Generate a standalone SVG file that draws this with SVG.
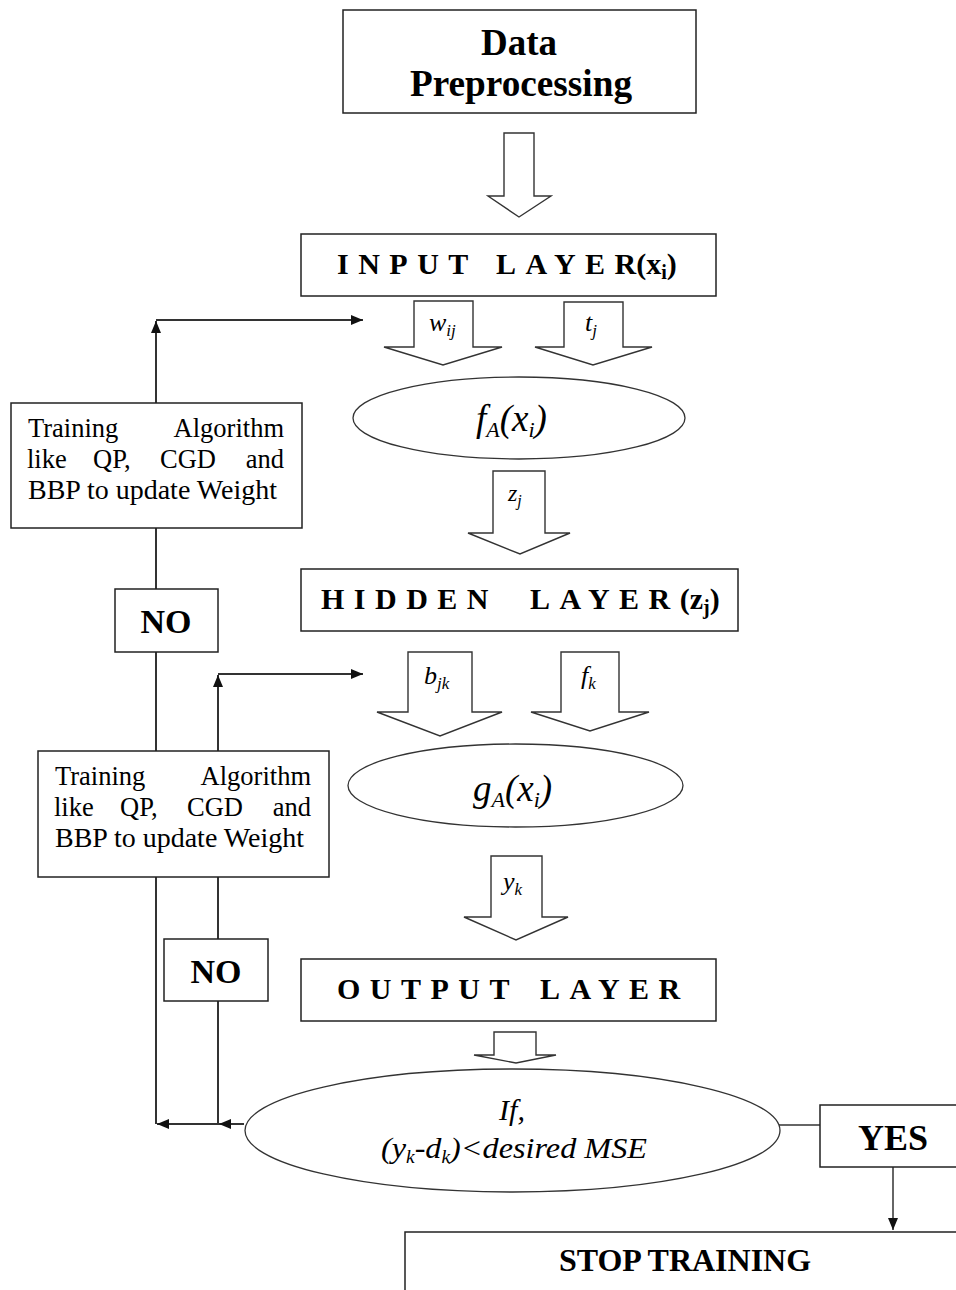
<svg xmlns="http://www.w3.org/2000/svg" width="956" height="1290" viewBox="0 0 956 1290">
  <style>
    .box { fill: #fff; stroke: #222; stroke-width: 1.5; }
    .ell { fill: #fff; stroke: #333; stroke-width: 1.3; }
    .blk { fill: #fff; stroke: #333; stroke-width: 1.4; stroke-linejoin: miter; }
    .ln { fill: none; stroke: #333; stroke-width: 2; }
    .thin { fill: none; stroke: #333; stroke-width: 1.5; }
    .title { font-family: "Liberation Serif", serif; font-weight: bold; font-size: 30px; letter-spacing: 9.5px; }
    .math { font-family: "Liberation Serif", serif; font-style: italic; }
    .body { font-family: "Liberation Serif", serif; font-size: 26.5px; }
    .bold { font-family: "Liberation Serif", serif; font-weight: bold; }
  </style>
  <defs>
    <marker id="tri" viewBox="0 0 12 10" refX="12" refY="5" markerWidth="12" markerHeight="10" markerUnits="userSpaceOnUse" orient="auto">
      <path d="M0,0 L12,5 L0,10 Z" fill="#111"/>
    </marker>
    <g id="trainText" class="body">
      <text x="28" y="437">Training</text>
      <text x="284" y="437" text-anchor="end">Algorithm</text>
      <text x="27" y="468">like</text>
      <text x="93" y="468">QP,</text>
      <text x="160" y="468">CGD</text>
      <text x="284" y="468" text-anchor="end">and</text>
      <text x="28" y="499" textLength="249" lengthAdjust="spacingAndGlyphs">BBP to update Weight</text>
    </g>
  </defs>

  <!-- feedback loops and decision links -->
  <g id="connectors">
    <path class="ln" d="M156,1124 L156,321" marker-end="url(#tri)"/>
    <path class="ln" d="M156,320 L363,320" marker-end="url(#tri)"/>
    <path class="ln" d="M218,1124 L218,675" marker-end="url(#tri)"/>
    <path class="ln" d="M218,674 L363,674" marker-end="url(#tri)"/>
    <path class="ln" d="M244,1124 L219,1124" marker-end="url(#tri)"/>
    <path class="ln" d="M219,1124 L157,1124" marker-end="url(#tri)"/>
    <path class="thin" d="M779,1125 L820,1125"/>
    <path class="thin" d="M893,1167 L893,1230" marker-end="url(#tri)"/>

    <!-- block arrows between stages -->
    <polygon class="blk" points="504,133 534,133 534,196 551,196 519,217 488,196 504,196"/>
    <polygon class="blk" points="414,301 473,301 473,347 502,347 443,365 384,347 414,347"/>
    <polygon class="blk" points="564,302 623,302 623,347 652,347 593,365 535,347 564,347"/>
    <polygon class="blk" points="493,471 545,471 545,533 570,533 520,554 468,533 493,533"/>
    <polygon class="blk" points="408,652 472,652 472,712 502,712 440,736 377,712 408,712"/>
    <polygon class="blk" points="561,652 619,652 619,712 649,712 590,731 531,712 561,712"/>
    <polygon class="blk" points="491,856 542,856 542,917 568,917 516,940 464,917 491,917"/>
    <polygon class="blk" points="494,1032 536,1032 536,1055 556,1055 516,1063 474,1055 494,1055"/>

    <g class="math" font-size="26">
      <text x="429" y="331">w<tspan font-size="17" dy="5">ij</tspan></text>
      <text x="585" y="331">t<tspan font-size="17" dy="5">j</tspan></text>
      <text x="424" y="684">b<tspan font-size="17" dy="5">jk</tspan></text>
      <text x="581" y="684">f<tspan font-size="17" dy="5">k</tspan></text>
      <text x="503" y="890">y<tspan font-size="17" dy="5">k</tspan></text>
    </g>
    <text class="math" font-size="24" x="508" y="501">z<tspan font-size="16" dy="5">j</tspan></text>
  </g>

  <g id="data-preprocessing">
    <rect class="box" x="343" y="10" width="353" height="103"/>
    <text class="bold" font-size="37" x="519" y="55" text-anchor="middle">Data</text>
    <text class="bold" font-size="37" x="521" y="96" text-anchor="middle" textLength="222" lengthAdjust="spacingAndGlyphs">Preprocessing</text>
  </g>

  <g id="input-layer">
    <rect class="box" x="301" y="234" width="415" height="62"/>
    <text class="title" y="274"><tspan x="337">INPUT</tspan><tspan x="496">LAYE</tspan><tspan letter-spacing="0">R</tspan><tspan letter-spacing="0">(x</tspan><tspan letter-spacing="0" font-size="20" dy="5">i</tspan><tspan letter-spacing="0" dy="-5">)</tspan></text>
  </g>

  <g id="activation-f">
    <ellipse class="ell" cx="519" cy="418" rx="166" ry="41"/>
    <text class="math" font-size="37" x="476" y="431">f<tspan font-size="22" dy="6">A</tspan><tspan dy="-6">(x</tspan><tspan font-size="22" dy="6">i</tspan><tspan dy="-6">)</tspan></text>
  </g>

  <g id="training-1">
    <rect class="box" x="11" y="403" width="291" height="125"/>
    <use href="#trainText"/>
  </g>

  <g id="no-1">
    <rect class="box" x="115" y="589" width="103" height="63"/>
    <text class="bold" font-size="34" x="166" y="633" text-anchor="middle">NO</text>
  </g>

  <g id="hidden-layer">
    <rect class="box" x="301" y="569" width="437" height="62"/>
    <text class="title" y="609"><tspan x="321">HIDDEN</tspan><tspan x="530">LAYE</tspan><tspan>R</tspan><tspan letter-spacing="0">(z</tspan><tspan letter-spacing="0" font-size="20" dy="5">j</tspan><tspan letter-spacing="0" dy="-5">)</tspan></text>
  </g>

  <g id="activation-g">
    <ellipse class="ell" cx="515.5" cy="785.5" rx="167.5" ry="41.5"/>
    <text class="math" font-size="37" x="473" y="801">g<tspan font-size="22" dy="6">A</tspan><tspan dy="-6">(x</tspan><tspan font-size="22" dy="6">i</tspan><tspan dy="-6">)</tspan></text>
  </g>

  <g id="training-2">
    <rect class="box" x="38" y="751" width="291" height="126"/>
    <use href="#trainText" transform="translate(27,348)"/>
  </g>

  <g id="no-2">
    <rect class="box" x="164" y="939" width="104" height="62"/>
    <text class="bold" font-size="34" x="216" y="983" text-anchor="middle">NO</text>
  </g>

  <g id="output-layer">
    <rect class="box" x="301" y="959" width="415" height="62"/>
    <text class="title" y="999"><tspan x="337">OUTPUT</tspan><tspan x="540">LAYE</tspan><tspan letter-spacing="0">R</tspan></text>
  </g>

  <g id="mse-check">
    <ellipse class="ell" cx="512.5" cy="1130.5" rx="267.5" ry="61.5"/>
    <text class="math" font-size="30" x="512" y="1120" text-anchor="middle">If,</text>
    <text class="math" font-size="30" x="381" y="1158" textLength="266" lengthAdjust="spacingAndGlyphs">(y<tspan font-size="18" dy="5">k</tspan><tspan dy="-5">-d</tspan><tspan font-size="18" dy="5">k</tspan><tspan dy="-5">)&lt;desired MSE</tspan></text>
  </g>

  <g id="yes">
    <rect class="box" x="820" y="1105" width="150" height="62"/>
    <text class="bold" font-size="36" x="893" y="1150" text-anchor="middle">YES</text>
  </g>

  <g id="stop-training">
    <rect class="box" x="405" y="1232" width="600" height="100"/>
    <text class="bold" font-size="32" x="685" y="1271" text-anchor="middle">STOP TRAINING</text>
  </g>
</svg>
